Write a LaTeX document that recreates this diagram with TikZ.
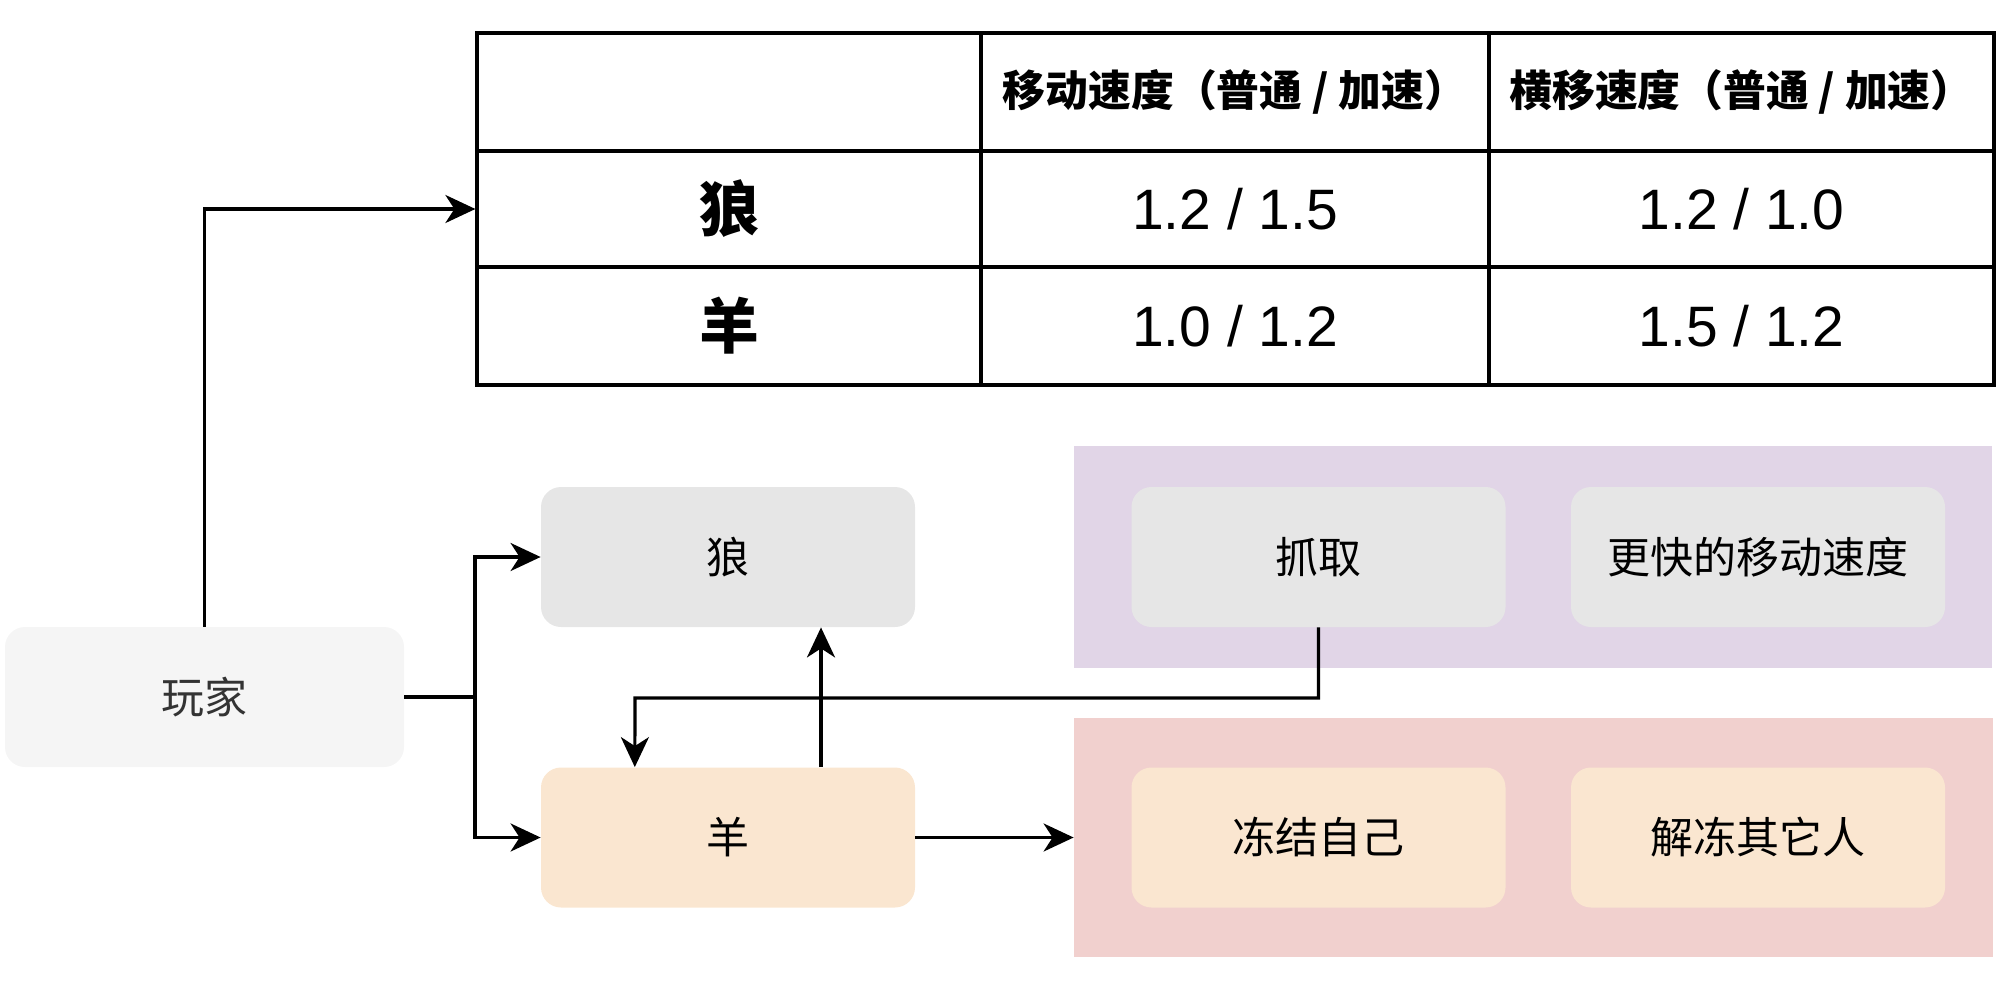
\documentclass[tikz,border=0pt]{standalone}
\usepackage{fontspec}
\setmainfont{Liberation Sans}
\newfontfamily\cjk{Noto Sans CJK SC}
\usetikzlibrary{arrows.meta}
\definecolor{playerfill}{HTML}{F5F5F5}
\definecolor{wolffill}{HTML}{E6E6E6}
\definecolor{sheepfill}{HTML}{FAE6D0}
\definecolor{purplefill}{HTML}{E1D5E7}
\definecolor{pinkfill}{HTML}{F1D0CE}
\definecolor{darktext}{HTML}{333333}
\tikzset{
  cell/.style={draw=black, line width=1.6pt, inner sep=0pt, anchor=center},
  hdr/.style={font=\cjk\bfseries\fontsize{21.4}{25}\selectfont},
  rowlab/.style={font=\cjk\bfseries\fontsize{30}{36}\selectfont},
  num/.style={font=\fontsize{28.5}{34}\selectfont},
  card/.style={rounded corners=10pt, inner sep=0pt, minimum width=187pt, minimum height=70pt, font=\cjk\fontsize{21.5}{26}\selectfont},
  group/.style={inner sep=0pt},
  conn/.style={line width=1.6pt, draw=black},
  arr/.style={conn, -{Stealth[length=15pt, width=14pt, inset=4.5pt]}},
}
\begin{document}
\begin{tikzpicture}[x=0.5pt, y=-0.5pt]
\useasboundingbox (0,0) rectangle (2011,995);
% table
\node[cell, minimum width=252pt, minimum height=59pt] (c00) at (729,92) {};
\node[cell, hdr, minimum width=254pt, minimum height=59pt] (c01) at (1235,92) {移动速度（普通 / 加速）};
\node[cell, hdr, minimum width=252.5pt, minimum height=59pt] (c02) at (1741.5,92) {横移速度（普通 / 加速）};
\node[cell, rowlab, minimum width=252pt, minimum height=58pt] (c10) at (729,209) {狼};
\node[cell, num, minimum width=254pt, minimum height=58pt] (c11) at (1235,209) {1.2 / 1.5};
\node[cell, num, minimum width=252.5pt, minimum height=58pt] (c12) at (1741.5,209) {1.2 / 1.0};
\node[cell, rowlab, minimum width=252pt, minimum height=59pt] (c20) at (729,326) {羊};
\node[cell, num, minimum width=254pt, minimum height=59pt] (c21) at (1235,326) {1.0 / 1.2};
\node[cell, num, minimum width=252.5pt, minimum height=59pt] (c22) at (1741.5,326) {1.5 / 1.2};
% groups
\node[group, fill=purplefill, minimum width=459pt, minimum height=111pt] (gp) at (1533,557) {};
\node[group, fill=pinkfill, minimum width=459.5pt, minimum height=119.5pt] (gr) at (1533.5,837.5) {};
% cards
\node[card, fill=playerfill, text=darktext, minimum width=199.5pt] (player) at (204.5,697) {玩家};
\node[card, fill=wolffill] (wolf) at (728,557) {狼};
\node[card, fill=sheepfill] (sheep) at (728,837.5) {羊};
\node[card, fill=wolffill] (grab) at (1318.5,557) {抓取};
\node[card, fill=wolffill] (faster) at (1758,557) {更快的移动速度};
\node[card, fill=sheepfill] (freeze) at (1318.5,837.5) {冻结自己};
\node[card, fill=sheepfill] (unfreeze) at (1758,837.5) {解冻其它人};
% connectors
\draw[arr] (player.north) |- (c10.west);
\coordinate (j) at (475,697);
\coordinate (k) at (635,698);
\draw[conn] (player.east) -- (j);
\draw[arr] (j) |- (wolf.west);
\draw[arr] (j) |- (sheep.west);
\draw[arr] ([xshift=46.5pt]sheep.north) -- ([xshift=46.5pt]wolf.south);
\draw[arr] (grab.south) |- (k) -- ([xshift=-46.6pt]sheep.north);
\draw[arr] (sheep.east) -- (gr.west);
\end{tikzpicture}
\end{document}
